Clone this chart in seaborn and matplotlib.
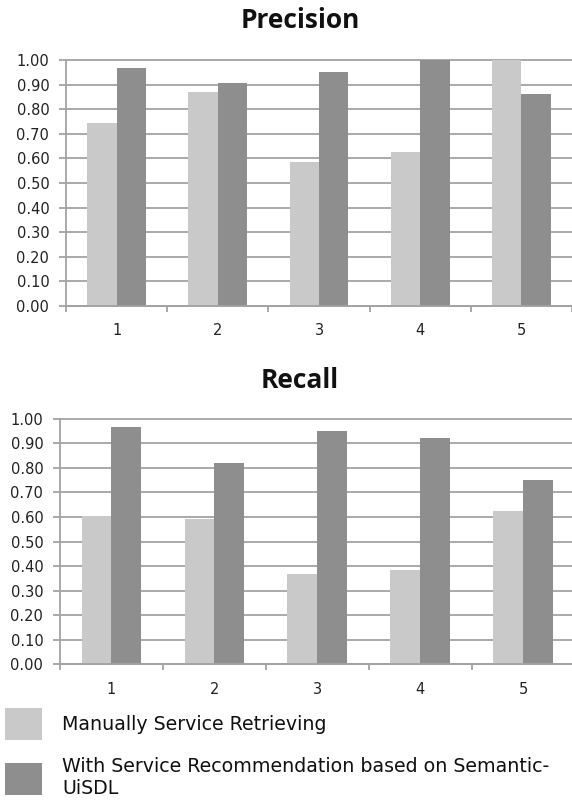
import matplotlib
matplotlib.use("Agg")
import matplotlib.pyplot as plt
import seaborn as sns
import pandas as pd
from matplotlib.ticker import FixedLocator

# ---- data ----
categories = ["1", "2", "3", "4", "5"]
series_names = ["Manually Service Retrieving",
                "With Service Recommendation based on Semantic-\nUiSDL"]
precision_manual = [0.744, 0.869, 0.584, 0.626, 1.00]
precision_recommend = [0.966, 0.905, 0.952, 1.00, 0.862]
recall_manual = [0.605, 0.590, 0.367, 0.383, 0.625]
recall_recommend = [0.965, 0.818, 0.951, 0.923, 0.749]
y_ticks = [0.0, 0.1, 0.2, 0.3, 0.4, 0.5, 0.6, 0.7, 0.8, 0.9, 1.0]
y_tick_labels = ["0.00", "0.10", "0.20", "0.30", "0.40", "0.50",
                 "0.60", "0.70", "0.80", "0.90", "1.00"]
colors = ["#c9c9c9", "#8e8e8e"]
grid_color = "#a3a3a3"

sns.set_theme(style="white")
plt.rcParams["font.family"] = ["DejaVu Sans"]

W, H = 572, 802
fig = plt.figure(figsize=(W / 100, H / 100), dpi=100)


def px_axes(left, top, right, bottom):
    return fig.add_axes([left / W, 1 - bottom / H, (right - left) / W, (bottom - top) / H])


def draw(ax, manual, rec, show_legend):
    df = pd.DataFrame({
        "cat": categories * 2,
        "value": manual + rec,
        "series": [series_names[0]] * len(categories) + [series_names[1]] * len(categories),
    })
    sns.barplot(data=df, x="cat", y="value", hue="series", hue_order=series_names,
                palette=colors, width=0.58, saturation=1, ax=ax,
                legend=show_legend, edgecolor="none", linewidth=0)
    ax.set_ylim(0, 1)
    ax.set_xlim(-0.5, len(categories) - 0.5)
    ax.set_yticks(y_ticks)
    ax.set_yticklabels(y_tick_labels)
    ax.set_xlabel("")
    ax.set_ylabel("")
    ax.yaxis.grid(True, color=grid_color, lw=1.3)
    for gl in ax.yaxis.get_gridlines():
        gl.set_clip_on(False)
    ax.set_axisbelow(True)
    ax.xaxis.set_minor_locator(FixedLocator([i - 0.5 for i in range(len(categories) + 1)]))
    ax.tick_params(axis="x", which="major", length=0, pad=12.5, labelsize=10.5, labelcolor="#222222")
    ax.tick_params(axis="x", which="minor", length=4, width=1.3, color=grid_color,
                   direction="out", bottom=True)
    ax.tick_params(axis="y", which="major", length=5, width=1.3, color=grid_color,
                   direction="out", left=True, pad=7, labelsize=10.5, labelcolor="#222222")
    for s in ["top", "right"]:
        ax.spines[s].set_visible(False)
    for s in ["left", "bottom"]:
        ax.spines[s].set_color(grid_color)
        ax.spines[s].set_linewidth(1.3)


ax1 = px_axes(66, 60, 572, 306)
ax2 = px_axes(60, 418.7, 574.5, 664.3)
draw(ax1, precision_manual, precision_recommend, True)
draw(ax2, recall_manual, recall_recommend, False)

handles, labels = ax1.get_legend_handles_labels()
ax1.get_legend().remove()

fig.text(300 / W, 1 - 28.3 / H, "Precision", ha="center", va="baseline",
         fontfamily="Open Sans", fontweight="bold", fontsize=19, color="#111111")
fig.text(300 / W, 1 - 388.3 / H, "Recall", ha="center", va="baseline",
         fontfamily="Open Sans", fontweight="bold", fontsize=19, color="#111111")

leg = fig.legend(handles, labels, loc="upper left", bbox_to_anchor=(5 / W, 1 - 707.7 / H),
                 frameon=False, fontsize=13.7, handlelength=1.95, handleheight=2.25,
                 handletextpad=1.05, labelspacing=0.9, borderaxespad=0, borderpad=0)
for t in leg.get_texts():
    t.set_linespacing(1.16)
    t.set_color("#111111")

fig.savefig("out.png", dpi=100)
